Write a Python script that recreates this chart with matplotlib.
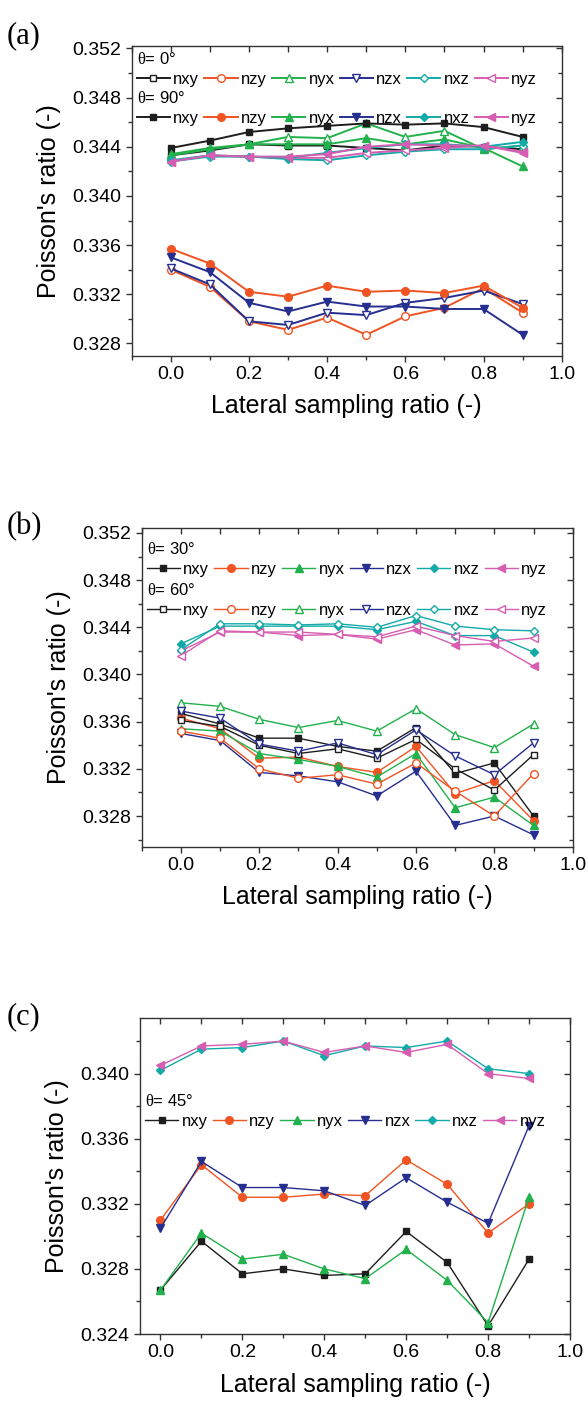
import numpy as np
import matplotlib
matplotlib.use("Agg")
import matplotlib.pyplot as plt
from matplotlib.ticker import MultipleLocator, FormatStrFormatter

plt.rcParams['font.family'] = ['Liberation Sans', 'DejaVu Sans']
plt.rcParams['mathtext.fontset'] = 'custom'
plt.rcParams['mathtext.rm'] = 'Liberation Serif'
plt.rcParams['mathtext.it'] = 'Liberation Serif'

# lateral sampling ratio
x = [0.0, 0.1, 0.2, 0.3, 0.4, 0.5, 0.6, 0.7, 0.8, 0.9]
names = ['nxy', 'nzy', 'nyx', 'nzx', 'nxz', 'nyz']

# (a) theta = 0 deg (open markers)
a0_nxy = [0.3433, 0.3437, 0.3442, 0.3441, 0.3441, 0.3439, 0.3437, 0.3441, 0.3440, 0.3438]
a0_nzy = [0.3340, 0.3326, 0.3298, 0.3291, 0.3301, 0.3287, 0.3302, 0.3309, 0.3325, 0.3305]
a0_nyx = [0.3433, 0.3438, 0.3442, 0.3448, 0.3447, 0.3459, 0.3448, 0.3453, 0.3438, 0.3441]
a0_nzx = [0.3341, 0.3328, 0.3298, 0.3295, 0.3305, 0.3303, 0.3313, 0.3317, 0.3323, 0.3312]
a0_nxz = [0.3428, 0.3432, 0.3432, 0.3430, 0.3429, 0.3433, 0.3436, 0.3438, 0.3438, 0.3441]
a0_nyz = [0.3428, 0.3433, 0.3432, 0.3431, 0.3431, 0.3435, 0.3437, 0.3439, 0.3441, 0.3435]
# (a) theta = 90 deg (filled markers)
a90_nxy = [0.3439, 0.3445, 0.3452, 0.3455, 0.3457, 0.3459, 0.3458, 0.3459, 0.3456, 0.3448]
a90_nzy = [0.3357, 0.3345, 0.3322, 0.3318, 0.3327, 0.3322, 0.3323, 0.3321, 0.3327, 0.3309]
a90_nyx = [0.3434, 0.3439, 0.3442, 0.3442, 0.3442, 0.3447, 0.3442, 0.3446, 0.3439, 0.3424]
a90_nzx = [0.3350, 0.3338, 0.3313, 0.3306, 0.3314, 0.3310, 0.3310, 0.3308, 0.3308, 0.3287]
a90_nxz = [0.3429, 0.3433, 0.3432, 0.3431, 0.3435, 0.3439, 0.3442, 0.3442, 0.3440, 0.3444]
a90_nyz = [0.3428, 0.3433, 0.3432, 0.3432, 0.3434, 0.3440, 0.3442, 0.3441, 0.3441, 0.3436]

# (b) theta = 30 deg (filled markers)
b30_nxy = [0.3367, 0.3358, 0.3346, 0.3346, 0.3339, 0.3335, 0.3355, 0.3316, 0.3325, 0.3280]
b30_nzy = [0.3363, 0.3354, 0.3329, 0.3330, 0.3322, 0.3317, 0.3339, 0.3299, 0.3310, 0.3276]
b30_nyx = [0.3354, 0.3352, 0.3333, 0.3328, 0.3322, 0.3313, 0.3333, 0.3287, 0.3296, 0.3272]
b30_nzx = [0.3350, 0.3344, 0.3317, 0.3314, 0.3309, 0.3297, 0.3318, 0.3272, 0.3280, 0.3264]
b30_nxz = [0.3426, 0.3441, 0.3441, 0.3441, 0.3441, 0.3438, 0.3445, 0.3433, 0.3433, 0.3419]
b30_nyz = [0.3420, 0.3436, 0.3436, 0.3433, 0.3434, 0.3430, 0.3438, 0.3425, 0.3426, 0.3407]
# (b) theta = 60 deg (open markers)
b60_nxy = [0.3361, 0.3356, 0.3340, 0.3333, 0.3337, 0.3329, 0.3345, 0.3320, 0.3302, 0.3332]
b60_nzy = [0.3352, 0.3346, 0.3320, 0.3312, 0.3315, 0.3307, 0.3325, 0.3301, 0.3280, 0.3316]
b60_nyx = [0.3376, 0.3373, 0.3362, 0.3355, 0.3361, 0.3352, 0.3371, 0.3349, 0.3338, 0.3358]
b60_nzx = [0.3369, 0.3363, 0.3341, 0.3335, 0.3342, 0.3332, 0.3353, 0.3331, 0.3315, 0.3342]
b60_nxz = [0.3421, 0.3443, 0.3443, 0.3442, 0.3443, 0.3440, 0.3450, 0.3441, 0.3438, 0.3437]
b60_nyz = [0.3416, 0.3437, 0.3436, 0.3436, 0.3434, 0.3432, 0.3441, 0.3433, 0.3428, 0.3431]

# (c) theta = 45 deg (filled markers)
c45_nxy = [0.3267, 0.3297, 0.3277, 0.3280, 0.3276, 0.3277, 0.3303, 0.3284, 0.3245, 0.3286]
c45_nzy = [0.3310, 0.3344, 0.3324, 0.3324, 0.3326, 0.3325, 0.3347, 0.3332, 0.3302, 0.3320]
c45_nyx = [0.3267, 0.3302, 0.3286, 0.3289, 0.3280, 0.3274, 0.3292, 0.3273, 0.3247, 0.3324]
c45_nzx = [0.3305, 0.3346, 0.3330, 0.3330, 0.3328, 0.3319, 0.3336, 0.3321, 0.3308, 0.3368]
c45_nxz = [0.3402, 0.3415, 0.3416, 0.3420, 0.3411, 0.3417, 0.3416, 0.3420, 0.3403, 0.3400]
c45_nyz = [0.3405, 0.3417, 0.3418, 0.3420, 0.3413, 0.3417, 0.3413, 0.3418, 0.3400, 0.3397]

colors = ['#1e1e1e', '#f05423', '#22b14c', '#262f8f', '#12aaa8', '#d65db1']
markers = ['s', 'o', '^', 'v', 'D', '<']
msizes = [5, 5.5, 6, 6, 4.5, 6]


def plot_group(ax, series, filled, lw=1.0):
    """Draw the six Poisson ratios of one angle, return the line handles."""
    handles = []
    for ys, name, c, m, ms in zip(series, names, colors, markers, msizes):
        line, = ax.plot(x, ys, color=c, lw=lw, marker=m, ms=ms,
                        mfc=c if filled else 'white', mec=c, mew=1.0, label=name)
        handles.append(line)
    return handles


def add_legend(ax, handles, title, y_anchor):
    leg = ax.legend(handles=handles, title=title, ncol=6, loc='upper left',
                    bbox_to_anchor=(0.0, y_anchor), frameon=False, fontsize=12,
                    title_fontsize=12, alignment='left', handlelength=2.0,
                    handletextpad=0.2, columnspacing=0.3, borderpad=0.3,
                    labelspacing=0.3, borderaxespad=0.0)
    # keep it as a plain artist so a second legend does not draw it twice
    ax.legend_ = None
    ax.add_artist(leg)
    return leg


def style_axes(ax, xlim, ylim):
    ax.set_xlim(*xlim)
    ax.set_ylim(*ylim)
    ax.xaxis.set_major_locator(MultipleLocator(0.2))
    ax.xaxis.set_minor_locator(MultipleLocator(0.1))
    ax.yaxis.set_major_locator(MultipleLocator(0.004))
    ax.yaxis.set_minor_locator(MultipleLocator(0.002))
    ax.xaxis.set_major_formatter(FormatStrFormatter('%.1f'))
    ax.yaxis.set_major_formatter(FormatStrFormatter('%.3f'))
    # outward ticks on left / bottom
    ax.tick_params(which='both', direction='out', labelsize=14, color='#333333', width=1.0)
    ax.tick_params(which='major', length=4)
    ax.tick_params(which='minor', length=3)
    for s in ax.spines.values():
        s.set_linewidth(1.0)
        s.set_color('#333333')
    ax.set_xlabel('Lateral sampling ratio (-)', fontsize=18, labelpad=8)
    ax.set_ylabel("Poisson's ratio (-)", fontsize=18, labelpad=8)


def mirror_ticks_inward(ax):
    # twin axes only used to draw inward ticks on top and right (origin look)
    twin = ax.twinx()
    twin.set_ylim(ax.get_ylim())
    twin.yaxis.set_major_locator(MultipleLocator(0.004))
    twin.yaxis.set_minor_locator(MultipleLocator(0.002))
    twin.tick_params(which='both', direction='in', labelright=False, color='#333333', width=1.0)
    twin.tick_params(which='major', length=4)
    twin.tick_params(which='minor', length=3)
    twy = ax.twiny()
    twy.set_xlim(ax.get_xlim())
    twy.xaxis.set_major_locator(MultipleLocator(0.2))
    twy.xaxis.set_minor_locator(MultipleLocator(0.1))
    twy.tick_params(which='both', direction='in', labeltop=False, color='#333333', width=1.0)
    twy.tick_params(which='both', length=4)
    for t in (twin, twy):
        for s in t.spines.values():
            s.set_visible(False)


fig = plt.figure(figsize=(5.88, 14.02), dpi=100)

# ---- panel (a)
ax_a = fig.add_axes([0.224, 0.7463, 0.7313, 0.2209])
h0 = plot_group(ax_a, [a0_nxy, a0_nzy, a0_nyx, a0_nzx, a0_nxz, a0_nyz], filled=False, lw=1.4)
h90 = plot_group(ax_a, [a90_nxy, a90_nzy, a90_nyx, a90_nzx, a90_nxz, a90_nyz], filled=True, lw=1.4)
style_axes(ax_a, (-0.1, 1.0), (0.3270, 0.3522))
add_legend(ax_a, h0, r'$\theta$= 0°', 1.0)
add_legend(ax_a, h90, r'$\theta$= 90°', 0.875)
mirror_ticks_inward(ax_a)

# ---- panel (b)
ax_b = fig.add_axes([0.241, 0.3961, 0.733, 0.2271])
h30 = plot_group(ax_b, [b30_nxy, b30_nzy, b30_nyx, b30_nzx, b30_nxz, b30_nyz], filled=True)
h60 = plot_group(ax_b, [b60_nxy, b60_nzy, b60_nyx, b60_nzx, b60_nxz, b60_nyz], filled=False)
style_axes(ax_b, (-0.1, 1.0), (0.3254, 0.3524))
add_legend(ax_b, h30, r'$\theta$= 30°', 0.975)
add_legend(ax_b, h60, r'$\theta$= 60°', 0.848)
mirror_ticks_inward(ax_b)

# ---- panel (c)
ax_c = fig.add_axes([0.2381, 0.0485, 0.7313, 0.2252])
h45 = plot_group(ax_c, [c45_nxy, c45_nzy, c45_nyx, c45_nzx, c45_nxz, c45_nyz], filled=True)
style_axes(ax_c, (-0.05, 1.0), (0.3240, 0.3434))
add_legend(ax_c, h45, r'$\theta$= 45°', 0.78)
mirror_ticks_inward(ax_c)

# panel letters
for lab, ypos in [('(a)', 0.985), ('(b)', 0.635), ('(c)', 0.285)]:
    fig.text(0.012, ypos, lab, fontsize=22, family='Liberation Serif', va='top')

fig.savefig('out.png', dpi=100)
